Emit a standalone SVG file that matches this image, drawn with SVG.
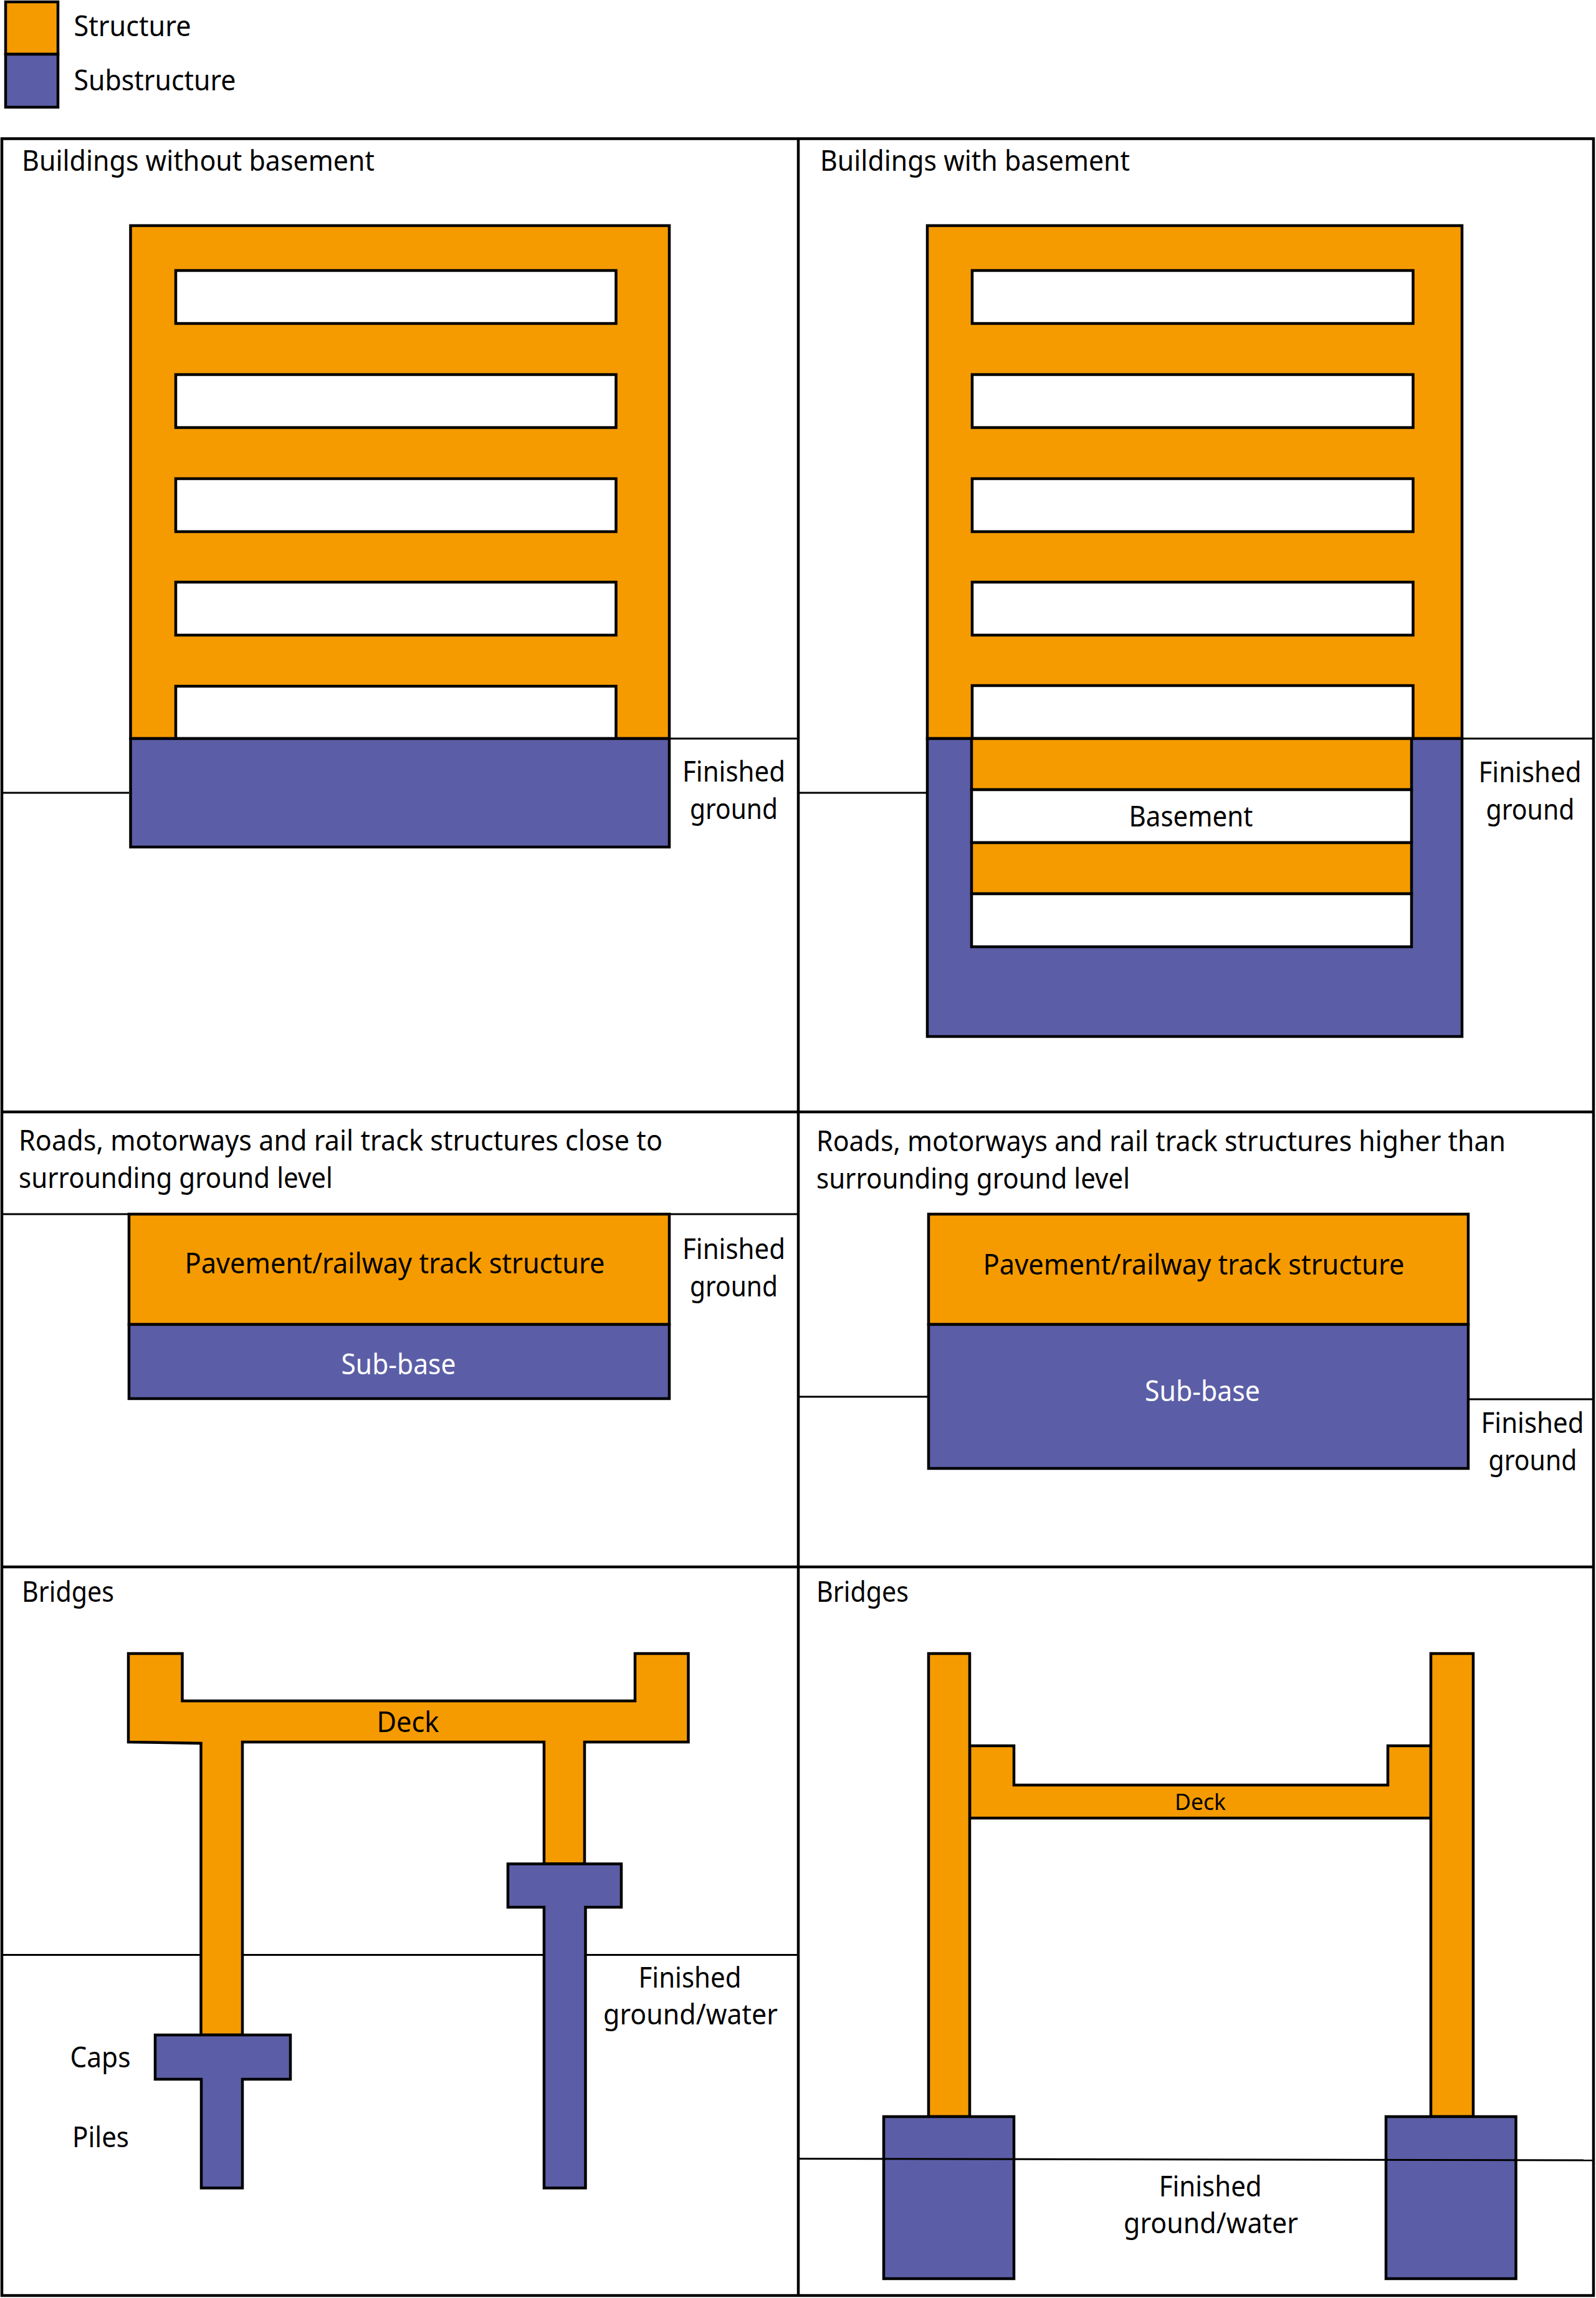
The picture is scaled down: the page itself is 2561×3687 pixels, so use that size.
<svg xmlns="http://www.w3.org/2000/svg" width="2561" height="3687" viewBox="0 0 2561 3687">
<style>
text{font-family:"Noto Sans","Open Sans","Liberation Sans",sans-serif;font-size:45px;fill:#000}
.o{fill:#F59B00;stroke:#000;stroke-width:4.5}
.p{fill:#5B5EA6;stroke:#000;stroke-width:4.5}
.w{fill:#fff;stroke:#000;stroke-width:4.5}
.f{fill:none;stroke:#000;stroke-width:4.5}
.g{fill:none;stroke:#000;stroke-width:3}
.wt{fill:#fff}
.sm{font-size:37px}
</style>
<rect width="2561" height="3687" fill="#fff"/>
<g id="frame">
<rect class="f" x="3" y="222.5" width="2554" height="3460.5"/>
<line class="f" x1="1281" y1="222" x2="1281" y2="3683"/>
<line class="f" x1="3" y1="1784" x2="2557" y2="1784"/>
<line class="f" x1="3" y1="2514" x2="2557" y2="2514"/>
</g>
<g id="legend">
<rect class="o" x="9" y="3" width="84" height="84"/>
<rect class="p" x="9" y="87" width="84" height="85"/>
<text x="118.5" y="58" textLength="188" lengthAdjust="spacingAndGlyphs">Structure</text>
<text x="118.5" y="145" textLength="260" lengthAdjust="spacingAndGlyphs">Substructure</text>
</g>
<g id="connectors">
<line class="g" x1="1074" y1="1185" x2="1281" y2="1185"/>
<line class="g" x1="3" y1="1272" x2="207" y2="1272"/>
<line class="g" x1="2346" y1="1185" x2="2557" y2="1185"/>
<line class="g" x1="1281" y1="1272" x2="1486" y2="1272"/>
<line class="g" x1="3" y1="1948" x2="1281" y2="1948"/>
<line class="g" x1="1281" y1="2241" x2="1490" y2="2241"/>
<line class="g" x1="2356" y1="2245" x2="2557" y2="2245"/>
<line class="g" x1="3" y1="3136.5" x2="1281" y2="3136.5"/>
</g>
<g id="panel-buildings-no-basement">
<text x="35" y="274" textLength="566" lengthAdjust="spacingAndGlyphs">Buildings without basement</text>
<rect class="o" x="209.5" y="362" width="864.5" height="823"/>
<rect class="w" x="282" y="434" width="706.5" height="85"/>
<rect class="w" x="282" y="601" width="706.5" height="85"/>
<rect class="w" x="282" y="768" width="706.5" height="85"/>
<rect class="w" x="282" y="934" width="706.5" height="85"/>
<rect class="w" x="282" y="1101" width="706.5" height="84"/>
<rect class="p" x="209.5" y="1185" width="864.5" height="174"/>
<text x="1095" y="1253.5" textLength="165" lengthAdjust="spacingAndGlyphs">Finished</text>
<text x="1107" y="1314" textLength="141" lengthAdjust="spacingAndGlyphs">ground</text>
</g>
<g id="panel-buildings-basement">
<text x="1316" y="274" textLength="497" lengthAdjust="spacingAndGlyphs">Buildings with basement</text>
<rect class="o" x="1488" y="362" width="858" height="823"/>
<rect class="w" x="1560" y="434" width="707.5" height="85"/>
<rect class="w" x="1560" y="601" width="707.5" height="85"/>
<rect class="w" x="1560" y="768" width="707.5" height="85"/>
<rect class="w" x="1560" y="934" width="707.5" height="85"/>
<rect class="w" x="1560" y="1100" width="707.5" height="85"/>
<rect class="p" x="1488" y="1185" width="858" height="478"/>
<rect class="o" x="1559" y="1185" width="706" height="82"/>
<rect class="w" x="1559" y="1267" width="706" height="85"/>
<rect class="o" x="1559" y="1352" width="706" height="82"/>
<rect class="w" x="1559" y="1434" width="706" height="85"/>
<text x="1811.5" y="1325.5" textLength="199" lengthAdjust="spacingAndGlyphs">Basement</text>
<text x="2372.5" y="1255" textLength="165" lengthAdjust="spacingAndGlyphs">Finished</text>
<text x="2384.5" y="1315" textLength="142" lengthAdjust="spacingAndGlyphs">ground</text>
</g>
<g id="panel-roads-close">
<text x="30" y="1846" textLength="1033" lengthAdjust="spacingAndGlyphs">Roads, motorways and rail track structures close to</text>
<text x="30" y="1906" textLength="504" lengthAdjust="spacingAndGlyphs">surrounding ground level</text>
<rect class="o" x="207" y="1948" width="867" height="177"/>
<rect class="p" x="207" y="2125" width="867" height="119"/>
<text x="296.5" y="2043" textLength="674" lengthAdjust="spacingAndGlyphs">Pavement/railway track structure</text>
<text class="wt" x="547.5" y="2205" textLength="184" lengthAdjust="spacingAndGlyphs">Sub-base</text>
<text x="1095" y="2020" textLength="165" lengthAdjust="spacingAndGlyphs">Finished</text>
<text x="1107" y="2080" textLength="141" lengthAdjust="spacingAndGlyphs">ground</text>
</g>
<g id="panel-roads-higher">
<text x="1310" y="1847" textLength="1106" lengthAdjust="spacingAndGlyphs">Roads, motorways and rail track structures higher than</text>
<text x="1310" y="1907" textLength="503" lengthAdjust="spacingAndGlyphs">surrounding ground level</text>
<rect class="o" x="1490" y="1948" width="866" height="177"/>
<rect class="p" x="1490" y="2125" width="866" height="231"/>
<text x="1577.5" y="2044.5" textLength="676" lengthAdjust="spacingAndGlyphs">Pavement/railway track structure</text>
<text class="wt" x="1837" y="2248" textLength="185" lengthAdjust="spacingAndGlyphs">Sub-base</text>
<text x="2376.5" y="2298.5" textLength="165" lengthAdjust="spacingAndGlyphs">Finished</text>
<text x="2388.5" y="2358.5" textLength="142" lengthAdjust="spacingAndGlyphs">ground</text>
</g>
<g id="panel-bridges-left">
<text x="35" y="2570" textLength="148" lengthAdjust="spacingAndGlyphs">Bridges</text>
<path class="o" d="M206 2653H292.5V2729H1019V2653H1104.5V2795H938V2990.5H873V2795H389V3265H322.5V2797L206 2795Z"/>
<path class="p" d="M249 3265H466V3336H389V3510.5H323V3336H249Z"/>
<path class="p" d="M815 2990.5H997V3060H939.5V3510.5H873V3060H815Z"/>
<text x="604.5" y="2778.5" textLength="100" lengthAdjust="spacingAndGlyphs">Deck</text>
<text x="1024.5" y="3189" textLength="165" lengthAdjust="spacingAndGlyphs">Finished</text>
<text x="968" y="3248" textLength="280" lengthAdjust="spacingAndGlyphs">ground/water</text>
<text x="112.5" y="3317" textLength="97" lengthAdjust="spacingAndGlyphs">Caps</text>
<text x="116" y="3445" textLength="91" lengthAdjust="spacingAndGlyphs">Piles</text>
</g>
<g id="panel-bridges-right">
<text x="1310" y="2570" textLength="148" lengthAdjust="spacingAndGlyphs">Bridges</text>
<path class="o" d="M1556 2801H1627V2864H2227V2801H2296V2917H1556Z"/>
<rect class="o" x="1490" y="2653" width="66" height="743"/>
<rect class="o" x="2296" y="2653" width="68" height="743"/>
<rect class="p" x="1418" y="3396" width="209" height="260"/>
<rect class="p" x="2224" y="3396" width="208.5" height="260"/>
<line class="g" x1="1283" y1="3463.5" x2="2557" y2="3466"/>
<text class="sm" x="1885" y="2904" textLength="82" lengthAdjust="spacingAndGlyphs">Deck</text>
<text x="1859.7" y="3523.5" textLength="165" lengthAdjust="spacingAndGlyphs">Finished</text>
<text x="1803" y="3583" textLength="280" lengthAdjust="spacingAndGlyphs">ground/water</text>
</g>
</svg>
